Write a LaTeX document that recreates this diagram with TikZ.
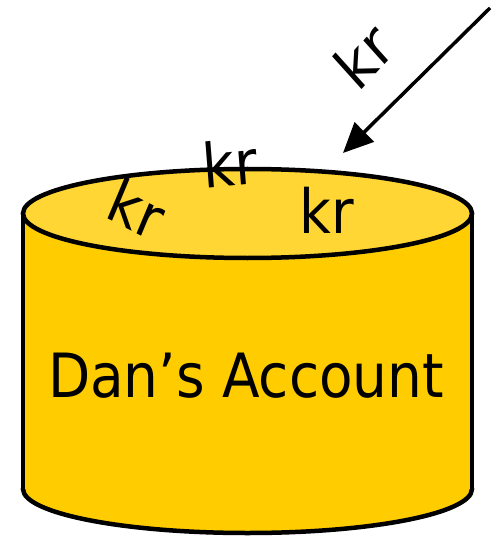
\documentclass[tikz,border=0pt]{standalone}
\usepackage{fontspec}
\setmainfont{DejaVu Sans}
\usetikzlibrary{arrows.meta}
\definecolor{bodygold}{HTML}{FFCC00}
\definecolor{topgold}{HTML}{FFD633}
\tikzset{
  outline/.style={draw=black, line width=4.5pt},
  bigtext/.style={font=\fontsize{61}{61}\selectfont, inner sep=0pt, xscale=0.9},
  sendarrow/.style={line width=3.5pt, -{Triangle[length=30pt,width=27pt]}}
}
\begin{document}
\begin{tikzpicture}[x=1pt,y=-1pt]
\useasboundingbox (0,0) rectangle (493,537);
% cylinder body
\filldraw[fill=bodygold, outline] (247.5,489) ellipse [x radius=224.5, y radius=44];
\fill[bodygold] (23,213.5) rectangle (472,489);
\draw[outline] (23,213.5) -- (23,489);
\draw[outline] (472,213.5) -- (472,489);
% top
\filldraw[fill=topgold, outline] (247.5,213.5) ellipse [x radius=224.5, y radius=44.5];
% labels
\node[bigtext] (acct) at (246,376) {Dan’s Account};
\node[bigtext] (kr1) at (327,210) {kr};
\node[bigtext, rotate=5] (kr2) at (230,163) {kr};
\node[bigtext, rotate=-25] (kr3) at (137,208) {kr};
\node[bigtext, rotate=45] (kr4) at (363,56) {kr};
% arrow
\coordinate (src) at (490,8);
\coordinate (dst) at (343,153);
\draw[sendarrow] (src) -- (dst);
\end{tikzpicture}
\end{document}
